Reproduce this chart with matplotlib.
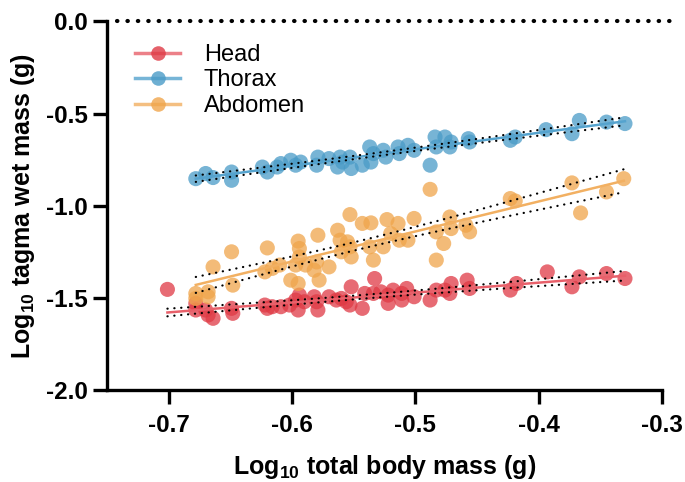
import numpy as np
import matplotlib.pyplot as plt

plt.rcParams['font.family'] = ['Liberation Sans', 'DejaVu Sans']
plt.rcParams['mathtext.fontset'] = 'custom'
plt.rcParams['mathtext.rm'] = 'Liberation Sans:bold'
plt.rcParams['mathtext.default'] = 'rm'

# log10 values
head_x = [-0.701, -0.678, -0.678, -0.670, -0.668, -0.664, -0.649, -0.648, -0.622, -0.620,
          -0.616, -0.609, -0.602, -0.597, -0.594, -0.595, -0.590, -0.582, -0.580, -0.579,
          -0.570, -0.564, -0.560, -0.556, -0.552, -0.553, -0.543, -0.541, -0.533, -0.534,
          -0.528, -0.522, -0.518, -0.511, -0.507, -0.501, -0.511, -0.522, -0.488, -0.483,
          -0.476, -0.472, -0.471, -0.458, -0.456, -0.423, -0.418, -0.393, -0.373, -0.367,
          -0.345, -0.330]
head_y = [-1.454, -1.530, -1.566, -1.566, -1.593, -1.611, -1.557, -1.584, -1.539, -1.557,
          -1.548, -1.548, -1.539, -1.512, -1.485, -1.566, -1.521, -1.494, -1.521, -1.566,
          -1.494, -1.512, -1.503, -1.521, -1.440, -1.539, -1.557, -1.476, -1.395, -1.476,
          -1.467, -1.485, -1.458, -1.476, -1.449, -1.494, -1.512, -1.530, -1.512, -1.458,
          -1.458, -1.476, -1.422, -1.404, -1.449, -1.458, -1.422, -1.359, -1.440, -1.386,
          -1.368, -1.395]

thorax_x = [-0.678, -0.670, -0.664, -0.649, -0.649, -0.624, -0.620, -0.612, -0.609, -0.601,
            -0.597, -0.593, -0.579, -0.580, -0.570, -0.561, -0.559, -0.553, -0.552, -0.563,
            -0.543, -0.537, -0.534, -0.536, -0.526, -0.524, -0.514, -0.513, -0.506, -0.501,
            -0.488, -0.484, -0.483, -0.476, -0.471, -0.472, -0.457, -0.456, -0.423, -0.419,
            -0.394, -0.373, -0.367, -0.345, -0.330]
thorax_y = [-0.853, -0.825, -0.847, -0.817, -0.862, -0.790, -0.817, -0.790, -0.771, -0.753,
            -0.780, -0.763, -0.736, -0.780, -0.744, -0.736, -0.763, -0.736, -0.798, -0.790,
            -0.780, -0.681, -0.717, -0.763, -0.699, -0.736, -0.681, -0.717, -0.672, -0.699,
            -0.780, -0.627, -0.681, -0.627, -0.654, -0.681, -0.636, -0.654, -0.645, -0.627,
            -0.587, -0.609, -0.537, -0.546, -0.554]

abdomen_x = [-0.678, -0.668, -0.678, -0.668, -0.664, -0.649, -0.648, -0.620, -0.622, -0.616,
             -0.610, -0.601, -0.595, -0.595, -0.594, -0.594, -0.597, -0.589, -0.579, -0.580,
             -0.578, -0.582, -0.570, -0.563, -0.561, -0.553, -0.560, -0.553, -0.552, -0.555,
             -0.543, -0.536, -0.537, -0.534, -0.526, -0.523, -0.520, -0.514, -0.506, -0.513,
             -0.501, -0.488, -0.483, -0.477, -0.483, -0.472, -0.471, -0.459, -0.456, -0.423,
             -0.419, -0.373, -0.366, -0.345, -0.331]
abdomen_y = [-1.476, -1.467, -1.503, -1.494, -1.332, -1.250, -1.431, -1.229, -1.359, -1.340,
             -1.322, -1.404, -1.422, -1.192, -1.232, -1.278, -1.322, -1.322, -1.160, -1.305,
             -1.404, -1.350, -1.332, -1.133, -1.187, -1.048, -1.250, -1.223, -1.278, -1.196,
             -1.096, -1.093, -1.223, -1.295, -1.223, -1.075, -1.151, -1.096, -1.187, -1.187,
             -1.069, -0.911, -1.142, -1.205, -1.295, -1.061, -1.124, -1.106, -1.142, -0.961,
             -0.974, -0.876, -1.039, -0.925, -0.853]

labels = ['Head', 'Thorax', 'Abdomen']
point_colors = ['#DF3A45', '#4A9BC7', '#F0A54B']
line_colors = ['#E8606A', '#55A3CE', '#F2B062']


def fit_ci(x, y):
    x = np.asarray(x)
    y = np.asarray(y)
    b, a = np.polyfit(x, y, 1)
    xs = np.linspace(x.min(), x.max(), 60)
    yhat = a + b * xs
    n = len(x)
    s = np.sqrt(np.sum((y - (a + b * x)) ** 2) / (n - 2))
    se = s * np.sqrt(1 / n + (xs - x.mean()) ** 2 / np.sum((x - x.mean()) ** 2))
    t = 2.0  # ~t(0.975, n-2)
    return xs, yhat, yhat - t * se, yhat + t * se


fig = plt.figure(figsize=(6.85, 4.82), dpi=100)
ax = fig.add_axes([0.1562, 0.1909, 0.8102, 0.7645])

series = [(head_x, head_y), (thorax_x, thorax_y), (abdomen_x, abdomen_y)]
for (x, y), lab, pc, lc in zip(series, labels, point_colors, line_colors):
    ax.scatter(x, y, s=118, color=pc, alpha=0.75, edgecolors='none', zorder=2)
    xs, yhat, lo, hi = fit_ci(x, y)
    ax.plot(xs, yhat, color=lc, lw=1.8, zorder=3)
    for band in (lo, hi):
        ax.plot(xs, band, color='black', lw=1.6, linestyle=(0, (0.1, 3.0)),
                dash_capstyle='round', zorder=4)
    # legend proxy
    ax.plot([], [], color=lc, lw=2.5, marker='o', markersize=10.5,
            markerfacecolor=pc, markeredgecolor='none', alpha=0.8, label=lab)

# dotted zero line
ax.plot([-0.742, -0.287], [0, 0], color='black', lw=3.0, linestyle=(0, (0.1, 2.4)),
        dash_capstyle='round', clip_on=False, zorder=5)

ax.set_xlim(-0.75, -0.3)
ax.set_ylim(-2.0, 0.0)
ax.set_xticks([-0.7, -0.6, -0.5, -0.4, -0.3])
ax.set_yticks([0.0, -0.5, -1.0, -1.5, -2.0])
ax.set_xticklabels(['-0.7', '-0.6', '-0.5', '-0.4', '-0.3'])
ax.set_yticklabels(['0.0', '-0.5', '-1.0', '-1.5', '-2.0'])

for side in ['top', 'right']:
    ax.spines[side].set_visible(False)
for side in ['left', 'bottom']:
    ax.spines[side].set_linewidth(2.4)
ax.tick_params(axis='both', length=10, width=2.4, labelsize=17.5)
ax.tick_params(axis='x', pad=7)
ax.tick_params(axis='y', pad=4)
for lbl in ax.get_xticklabels() + ax.get_yticklabels():
    lbl.set_fontweight('bold')

ax.set_xlabel('Log$_{10}$ total body mass (g)', fontsize=18, fontweight='bold', labelpad=12)
ax.set_ylabel('Log$_{10}$ tagma wet mass (g)', fontsize=18, fontweight='bold', labelpad=6)

ax.legend(loc='upper left', bbox_to_anchor=(0.034, 0.965), frameon=False, fontsize=17,
          handlelength=1.9, handletextpad=1.0, labelspacing=0.15, borderaxespad=0)

plt.savefig('out.png', dpi=100)
